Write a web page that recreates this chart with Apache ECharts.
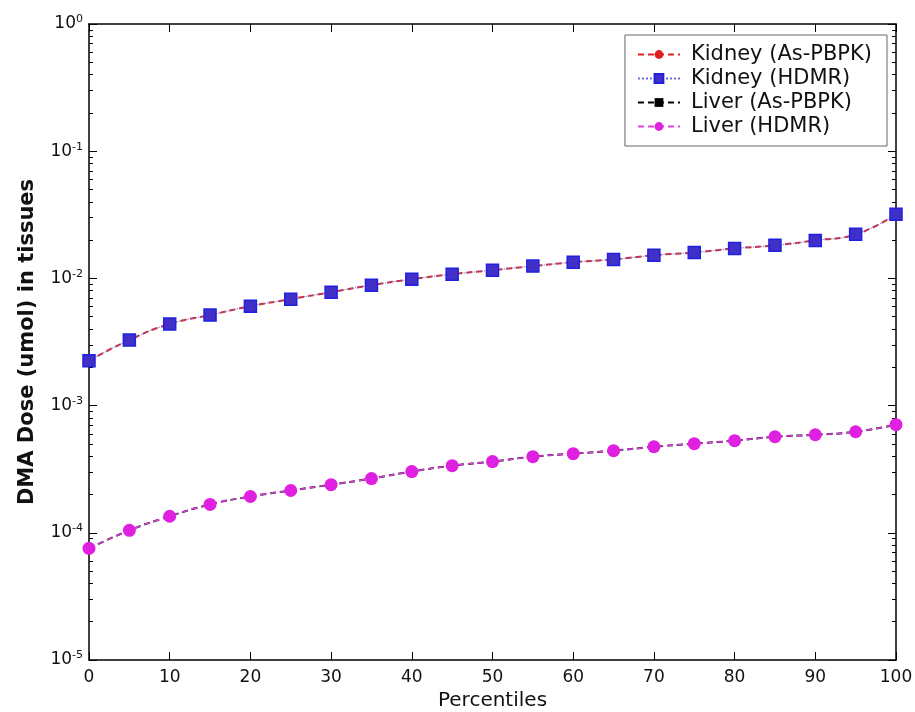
<!DOCTYPE html>
<html>
<head>
<meta charset="utf-8">
<script src="https://cdn.jsdelivr.net/npm/echarts@6/dist/echarts.min.js"></script>
<style>
  html, body { margin: 0; padding: 0; background: #fff; }
  #chart { width: 915px; height: 712px; }
</style>
</head>
<body>
<div id="chart"></div>
<script>
// percentiles on x
var percentiles = [0, 5, 10, 15, 20, 25, 30, 35, 40, 45, 50, 55, 60, 65, 70, 75, 80, 85, 90, 95, 100];

// DMA dose (umol)
var kidneyPBPK = [2.25e-3, 3.28e-3, 4.38e-3, 5.15e-3, 6.05e-3, 6.87e-3, 7.80e-3, 8.85e-3, 9.86e-3, 1.08e-2, 1.16e-2,
                  1.25e-2, 1.34e-2, 1.41e-2, 1.52e-2, 1.60e-2, 1.72e-2, 1.82e-2, 1.99e-2, 2.22e-2, 3.19e-2];
var kidneyHDMR = [2.25e-3, 3.28e-3, 4.38e-3, 5.15e-3, 6.05e-3, 6.87e-3, 7.80e-3, 8.85e-3, 9.86e-3, 1.08e-2, 1.16e-2,
                  1.25e-2, 1.34e-2, 1.41e-2, 1.52e-2, 1.60e-2, 1.72e-2, 1.82e-2, 1.99e-2, 2.22e-2, 3.19e-2];
var liverPBPK = [7.55e-5, 1.045e-4, 1.35e-4, 1.67e-4, 1.93e-4, 2.15e-4, 2.39e-4, 2.67e-4, 3.03e-4, 3.37e-4, 3.63e-4,
                 3.97e-4, 4.19e-4, 4.42e-4, 4.75e-4, 5.02e-4, 5.30e-4, 5.69e-4, 5.90e-4, 6.23e-4, 7.08e-4];
var liverHDMR = [7.55e-5, 1.045e-4, 1.35e-4, 1.67e-4, 1.93e-4, 2.15e-4, 2.39e-4, 2.67e-4, 3.03e-4, 3.37e-4, 3.63e-4,
                 3.97e-4, 4.19e-4, 4.42e-4, 4.75e-4, 5.02e-4, 5.30e-4, 5.69e-4, 5.90e-4, 6.23e-4, 7.08e-4];

var seriesNames = ["Kidney (As-PBPK)", "Kidney (HDMR)", "Liver (As-PBPK)", "Liver (HDMR)"];

function pairs(vals) {
    return percentiles.map(function (p, i) { return [p, vals[i]]; });
}

var chart = echarts.init(document.getElementById("chart"));

var font = "DejaVu Sans";
var axisLineStyle = { color: "#000", width: 1.5 };
var tickStyle = { inside: true, length: 8, lineStyle: { color: "#000" } };
var minorStyle = { show: true, splitNumber: 9, length: 4, lineStyle: { color: "#000" } };

chart.setOption({
    animation: false,
    backgroundColor: "#fff",
    textStyle: { fontFamily: font },
    grid: { left: 89, right: 19, top: 24, bottom: 52, outerBoundsMode: "none" },
    legend: {
        right: 28,
        top: 35,
        orient: "vertical",
        itemGap: 3,
        itemWidth: 42,
        itemHeight: 11,
        padding: [9, 15, 9, 12],
        borderColor: "#666",
        borderWidth: 1,
        backgroundColor: "#fff",
        textStyle: { fontSize: 21, color: "#111", fontFamily: font, padding: [0, 0, 0, 6] },
        data: seriesNames
    },
    xAxis: [{
        type: "value",
        min: 0, max: 100, interval: 10,
        name: "Percentiles",
        nameLocation: "middle",
        nameGap: 30,
        nameTextStyle: { fontSize: 20, color: "#111" },
        axisLine: { show: true, onZero: false, lineStyle: axisLineStyle },
        axisTick: tickStyle,
        axisLabel: { fontSize: 17, color: "#111", margin: 9 },
        splitLine: { show: false }
    }, {
        type: "value",
        position: "top",
        min: 0, max: 100, interval: 10,
        axisLine: { show: true, onZero: false, lineStyle: axisLineStyle },
        axisTick: tickStyle,
        axisLabel: { show: false },
        splitLine: { show: false }
    }],
    yAxis: [{
        type: "log",
        logBase: 10,
        min: 1e-5, max: 1,
        name: "DMA Dose (umol) in tissues",
        nameLocation: "middle",
        nameGap: 51,
        nameTextStyle: { fontSize: 21, fontWeight: "bold", color: "#111" },
        axisLine: { show: true, onZero: false, lineStyle: axisLineStyle },
        axisTick: tickStyle,
        minorTick: minorStyle,
        axisLabel: {
            margin: 6,
            formatter: function (v) {
                var e = Math.round(Math.log10(v));
                return "{b|10}{e|" + e + "}";
            },
            rich: {
                b: { fontSize: 17, color: "#111", fontFamily: font },
                e: { fontSize: 11, color: "#111", fontFamily: font, verticalAlign: "top", padding: [0, 0, 9, 0] }
            }
        },
        splitLine: { show: false }
    }, {
        type: "log",
        logBase: 10,
        position: "right",
        min: 1e-5, max: 1,
        axisLine: { show: true, onZero: false, lineStyle: axisLineStyle },
        axisTick: tickStyle,
        minorTick: minorStyle,
        axisLabel: { show: false },
        splitLine: { show: false }
    }],
    series: [{
        name: seriesNames[0],
        type: "line",
        data: pairs(kidneyPBPK),
        smooth: true,
        symbol: "circle",
        symbolSize: 8,
        itemStyle: { color: "#e02020" },
        lineStyle: { color: "#e02020", width: 2, type: [6, 4] },
        z: 2
    }, {
        name: seriesNames[1],
        type: "line",
        data: pairs(kidneyHDMR),
        smooth: true,
        symbol: "rect",
        symbolSize: 12,
        itemStyle: { color: "#4030c8", borderColor: "#2020e0", borderWidth: 1.5 },
        lineStyle: { color: "#6a6ae0", width: 1, type: "dotted" },
        z: 3
    }, {
        name: seriesNames[2],
        type: "line",
        data: pairs(liverPBPK),
        smooth: true,
        symbol: "rect",
        symbolSize: 7,
        itemStyle: { color: "#000" },
        lineStyle: { color: "#000", width: 2, type: [6, 4] },
        z: 2
    }, {
        name: seriesNames[3],
        type: "line",
        data: pairs(liverHDMR),
        smooth: true,
        symbol: "circle",
        symbolSize: 13,
        itemStyle: { color: "#e020e0" },
        lineStyle: { color: "#e040e0", width: 1.5, type: [6, 4] },
        z: 3
    }]
});
</script>
</body>
</html>
